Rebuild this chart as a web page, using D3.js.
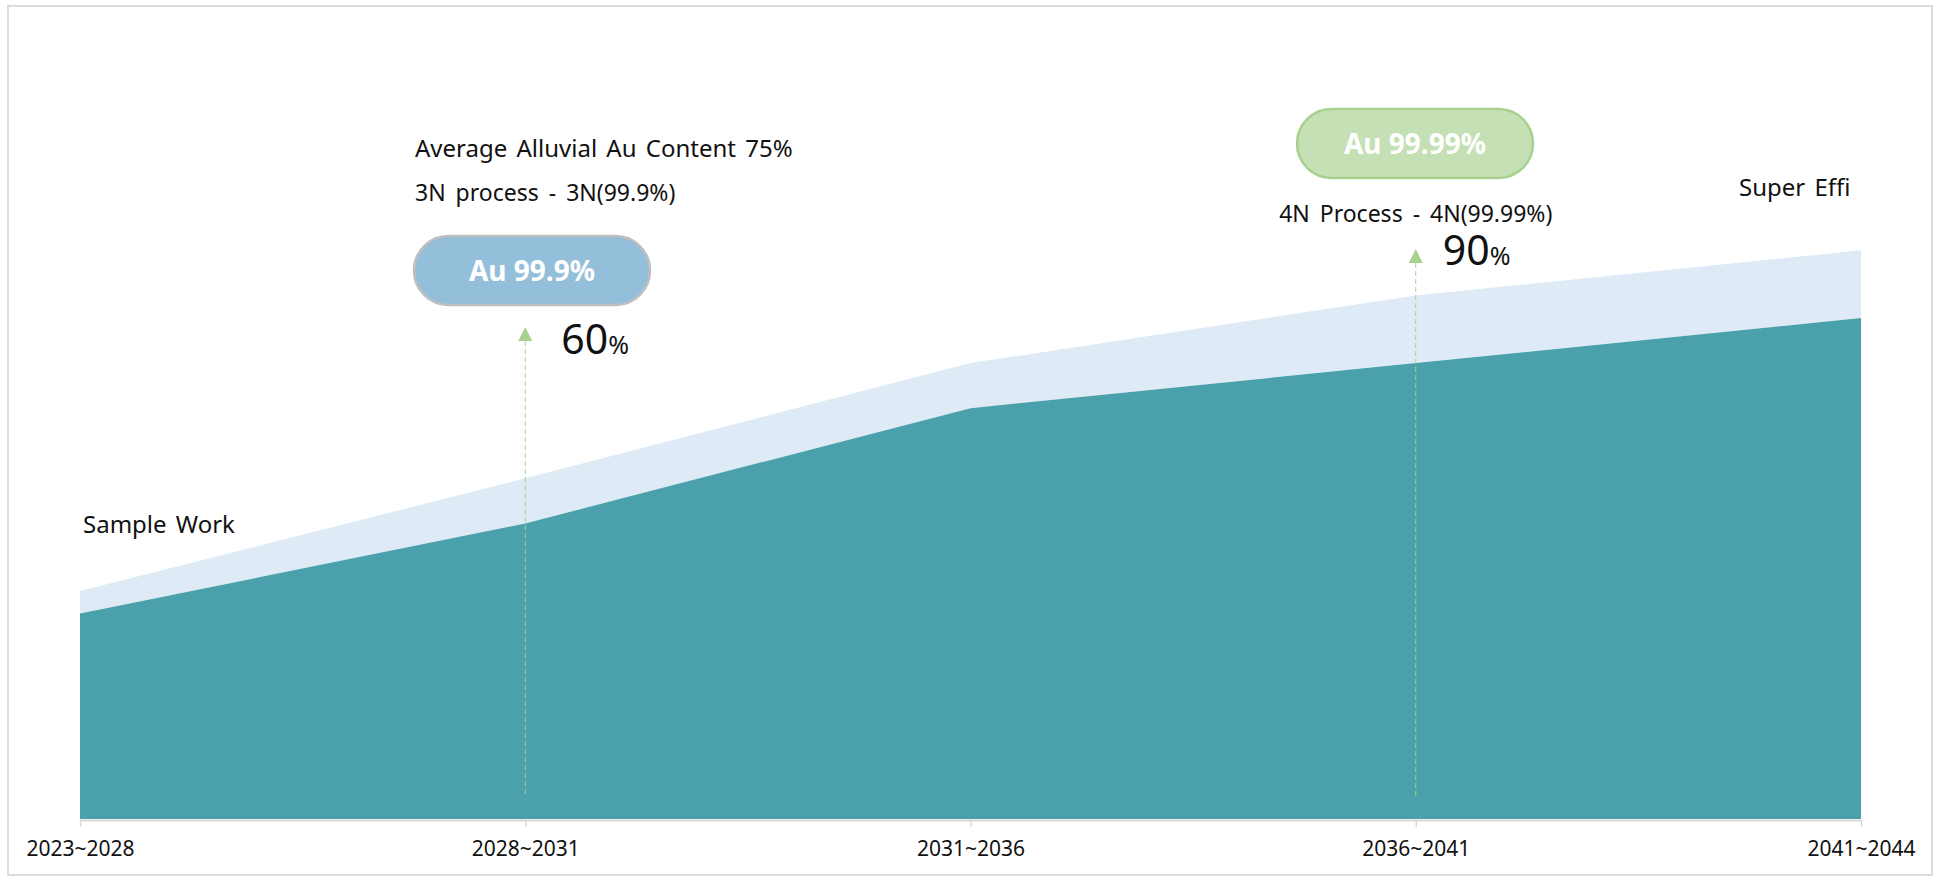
<!DOCTYPE html>
<html>
<head>
<meta charset="utf-8">
<script src="https://cdn.jsdelivr.net/npm/d3@7"></script>
<style>
  html, body { margin: 0; padding: 0; background: #ffffff; }
  svg { display: block; font-family: "Noto Sans", "Open Sans", sans-serif; }
</style>
</head>
<body>
<svg id="chart" width="1936" height="877"></svg>
<script>
"use strict";

// Periods on the x axis.
const periods = ["2023~2028", "2028~2031", "2031~2036", "2036~2041", "2041~2044"];
// Lower (teal) area values.
const baseValues = [41, 59, 82, 91, 100];
// Extra light band stacked on top of the teal area.
const extraValues = [4.5, 9, 9, 13.5, 13.5];

// Annotation content.
const leftNotes = ["Average Alluvial Au Content 75%", "3N process - 3N(99.9%)"];
const rightNote = "4N Process - 4N(99.99%)";
const startLabel = "Sample Work";
const endLabel = "Super Effi";
const badges = [
  { period: "2028~2031", text: "Au 99.9%", pct: "60" },
  { period: "2036~2041", text: "Au 99.99%", pct: "90" },
];

const svg = d3.select("#chart");
const width = 1936;
const baseline = 819;

// Frame around the whole picture.
svg.append("rect")
  .attr("x", 8).attr("y", 6)
  .attr("width", width - 4 - 8).attr("height", 869)
  .attr("fill", "none")
  .attr("stroke", "#dcdcdc")
  .attr("stroke-width", 2);

const xScale = d3.scalePoint()
  .domain(periods)
  .range([80, 1861]);

const yScale = d3.scaleLinear()
  .domain([0, 100])
  .range([baseline, 318]);

// Stack the two series so the light band sits on the teal one.
const rows = periods.map((p, i) => ({ period: p, base: baseValues[i], extra: extraValues[i] }));
const stacked = d3.stack().keys(["base", "extra"])(rows);
const fills = { base: "#4aa1ab", extra: "#deebf6" };

const area = d3.area()
  .x(d => xScale(d.data.period))
  .y0(d => yScale(d[0]))
  .y1(d => yScale(d[1]));

svg.append("g")
  .selectAll("path")
  .data(stacked.slice().reverse())
  .join("path")
  .attr("d", area)
  .attr("fill", d => fills[d.key]);

// Bottom axis: light gray line with ticks, labels below.
const xAxis = d3.axisBottom(xScale).tickSize(7).tickSizeOuter(0).tickPadding(14);
const axisG = svg.append("g")
  .attr("transform", `translate(0, ${baseline + 1})`)
  .call(xAxis);
axisG.select(".domain").attr("stroke", "#d9d9d9").attr("stroke-width", 2);
axisG.selectAll(".tick line").attr("stroke", "#d9d9d9").attr("stroke-width", 1.5);
axisG.selectAll(".tick text")
  .attr("fill", "#111")
  .attr("font-size", 21)
  .attr("font-family", "Noto Sans, sans-serif");

// Text annotations.
const textColor = "#111111";
svg.append("text")
  .attr("x", 83).attr("y", 533)
  .attr("font-size", 24).attr("word-spacing", 3)
  .attr("fill", textColor)
  .text(startLabel);

svg.append("text")
  .attr("x", 1739).attr("y", 196)
  .attr("font-size", 24).attr("word-spacing", 3)
  .attr("fill", textColor)
  .text(endLabel);

svg.append("text")
  .attr("x", 415).attr("y", 157)
  .attr("font-size", 24).attr("word-spacing", 3)
  .attr("fill", textColor)
  .text(leftNotes[0]);

svg.append("text")
  .attr("x", 415).attr("y", 201)
  .attr("font-size", 23).attr("word-spacing", 4)
  .attr("fill", textColor)
  .text(leftNotes[1]);

svg.append("text")
  .attr("x", xScale("2036~2041")).attr("y", 222)
  .attr("text-anchor", "middle")
  .attr("font-size", 23).attr("word-spacing", 4)
  .attr("fill", textColor)
  .text(rightNote);

// Pill badges, arrows and percentage labels.
const badgeStyle = [
  { cx: 532, top: 236, fill: "#93bfda", stroke: "#bfbfbf", arrowTop: 327, pctY: 354, pctDx: 36 },
  { cx: 1415, top: 109, fill: "#c5e0b4", stroke: "#a9d18e", arrowTop: 249, pctY: 265, pctDx: 27 },
];
const pillW = 236, pillH = 69;

badges.forEach((b, i) => {
  const s = badgeStyle[i];
  const px = xScale(b.period);
  const g = svg.append("g");

  g.append("rect")
    .attr("x", s.cx - pillW / 2).attr("y", s.top)
    .attr("width", pillW).attr("height", pillH)
    .attr("rx", pillH / 2).attr("ry", pillH / 2)
    .attr("fill", s.fill)
    .attr("stroke", s.stroke)
    .attr("stroke-width", 2.5);

  g.append("text")
    .attr("x", s.cx).attr("y", s.top + pillH / 2 + 10)
    .attr("text-anchor", "middle")
    .attr("font-size", 28).attr("font-weight", "bold")
    .attr("fill", "#ffffff")
    .text(b.text);

  // Dashed guide line from the arrow down to the bottom.
  g.append("line")
    .attr("x1", px).attr("x2", px)
    .attr("y1", s.arrowTop + 14).attr("y2", 797)
    .attr("stroke", "#a9d18e")
    .attr("stroke-width", 1)
    .attr("stroke-dasharray", "5,3");

  g.append("path")
    .attr("d", `M${px},${s.arrowTop} L${px + 7},${s.arrowTop + 14} L${px - 7},${s.arrowTop + 14} Z`)
    .attr("fill", "#a9d18e");

  const t = g.append("text")
    .attr("x", px + s.pctDx).attr("y", s.pctY)
    .attr("fill", textColor);
  t.append("tspan").attr("font-size", 41).text(b.pct);
  t.append("tspan").attr("font-size", 25).text("%");
});
</script>
</body>
</html>
